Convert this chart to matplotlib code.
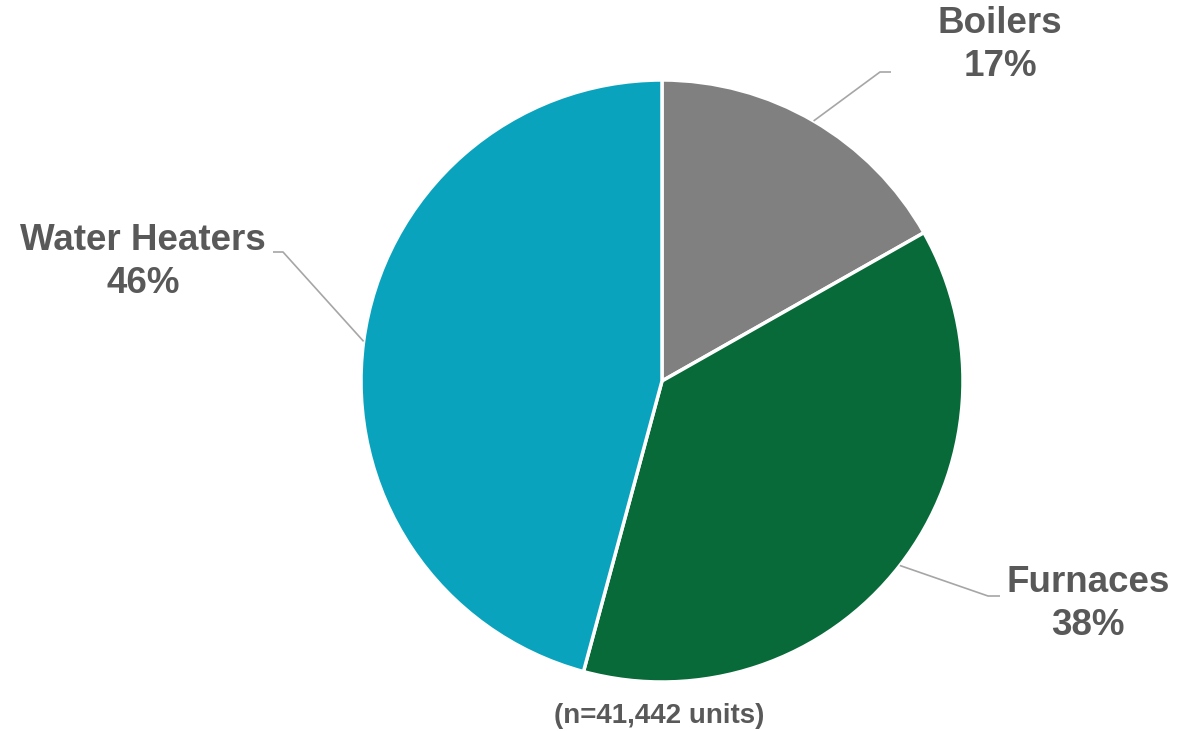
import numpy as np
import matplotlib
matplotlib.use('Agg')
from matplotlib import pyplot as plt

# data
labels = ['Boilers', 'Furnaces', 'Water Heaters']
shares = [16.8, 37.4, 45.8]
pct_text = ['17%', '38%', '46%']
colors = ['#808080', '#076A38', '#0AA3BE']
note = '(n=41,442 units)'

plt.rcParams['font.family'] = ['Liberation Sans', 'DejaVu Sans']

W, H = 1186, 731
fig = plt.figure(figsize=(W / 100, H / 100), dpi=100)
ax = fig.add_axes([0, 0, 1, 1])

cx, cy, R = 662, H - 381, 301
wedges, _ = ax.pie(shares, colors=colors, startangle=90, counterclock=False,
                   center=(cx, cy), radius=R,
                   wedgeprops=dict(edgecolor='white', linewidth=2.5))
ax.set_xlim(0, W)
ax.set_ylim(0, H)
ax.set_aspect('equal', adjustable='datalim')
ax.axis('off')

# label layout: elbow point, end of short horizontal, text centre
layout = {
    'Boilers': ((880, H - 72), (891, H - 72), (1000, H - 45)),
    'Furnaces': ((988, H - 596), (1000, H - 596), (1088, H - 604)),
    'Water Heaters': ((283, H - 252), (273, H - 252), (143, H - 262)),
}

for w, lab, pct in zip(wedges, labels, pct_text):
    mid = np.deg2rad((w.theta1 + w.theta2) / 2)
    x0 = cx + R * np.cos(mid)
    y0 = cy + R * np.sin(mid)
    elbow, end, tpos = layout[lab]
    ax.plot([x0, elbow[0], end[0]], [y0, elbow[1], end[1]],
            color='#A6A6A6', lw=1.2, solid_capstyle='butt')
    ax.text(tpos[0], tpos[1], lab + '\n' + pct, ha='center', va='center',
            fontsize=26.5, fontweight='bold', color='#595959', linespacing=1.3)

ax.text(659, H - 716, note, ha='center', va='center', fontsize=20,
        fontweight='bold', color='#595959')

fig.savefig('out.png', dpi=100)
